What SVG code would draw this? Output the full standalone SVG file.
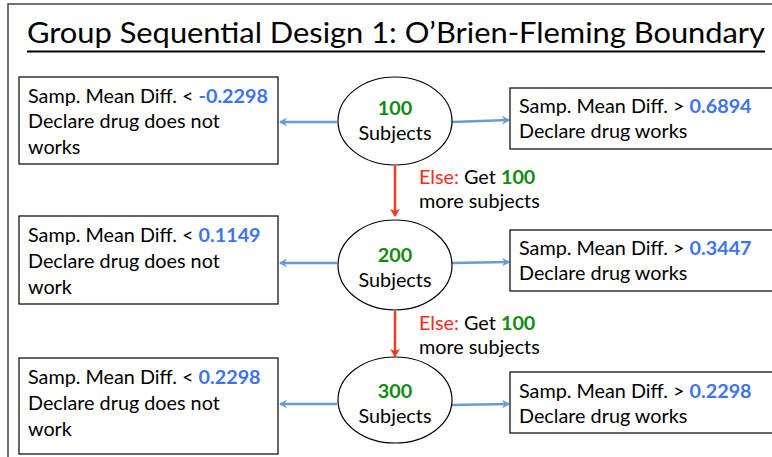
<svg xmlns="http://www.w3.org/2000/svg" width="772" height="457" viewBox="0 0 772 457">
<defs>
<marker id="blueHead" markerWidth="10" markerHeight="10" refX="7" refY="5" orient="auto" markerUnits="userSpaceOnUse" viewBox="0 0 10 10">
<path d="M0,0.5 L8,5 L0,9.5 L2.5,5 Z" fill="#6a9bd1"/>
</marker>
<marker id="redHead" markerWidth="10" markerHeight="10" refX="7" refY="5" orient="auto" markerUnits="userSpaceOnUse" viewBox="0 0 10 10">
<path d="M0,0 L8,5 L0,10 L2,5 Z" fill="#f03c1e"/>
</marker>
</defs>
<style>
text{font-family:Lato,"Liberation Sans",sans-serif;font-size:19.8px;fill:#000}
.b{font-weight:bold;fill:#3f73f0}
.g{font-weight:bold;fill:#128a12}
.r{fill:#ff2a1a}
.box{fill:#fff;stroke:#000;stroke-width:1.2}
.ell{fill:#fff;stroke:#000;stroke-width:1.2}
.blue{stroke:#6a9bd1;stroke-width:2.5;fill:none;marker-end:url(#blueHead)}
.red{stroke:#f03c1e;stroke-width:2.5;fill:none;marker-end:url(#redHead)}
</style>
<rect width="772" height="457" fill="#fff"/>
<path d="M8,457 L8,4 L772,4" fill="none" stroke="#444" stroke-width="1.5"/>
<g id="title">
<text x="27" y="43" style="font-size:28px" textLength="738" lengthAdjust="spacingAndGlyphs">Group Sequential Design 1: O’Brien-Fleming Boundary</text>
<line x1="27" y1="51.5" x2="765" y2="51.5" stroke="#000" stroke-width="2"/>
</g>
<g id="connectors">
<line class="blue" x1="337" y1="122" x2="280" y2="122"/>
<line class="blue" x1="452" y1="122" x2="509" y2="120"/>
<line class="blue" x1="337" y1="263" x2="280" y2="263"/>
<line class="blue" x1="452" y1="263" x2="509" y2="262"/>
<line class="blue" x1="337" y1="404" x2="280" y2="404"/>
<line class="blue" x1="452" y1="405" x2="509" y2="404"/>
<line class="red" x1="395" y1="166" x2="395" y2="216"/>
<line class="red" x1="395" y1="311" x2="395" y2="356"/>
</g>
<g id="else1">
<text x="419" y="184"><tspan class="r">Else:</tspan> Get <tspan class="g">100</tspan></text>
<text x="419" y="208">more subjects</text>
</g>
<g id="else2">
<text x="419" y="330"><tspan class="r">Else:</tspan> Get <tspan class="g">100</tspan></text>
<text x="419" y="354">more subjects</text>
</g>
<g id="n100">
<ellipse class="ell" cx="395" cy="121" rx="57" ry="44"/>
<text x="395" y="115" text-anchor="middle" class="g">100</text>
<text x="395" y="140" text-anchor="middle">Subjects</text>
</g>
<g id="n200">
<ellipse class="ell" cx="395" cy="265" rx="57" ry="45"/>
<text x="395" y="262" text-anchor="middle" class="g">200</text>
<text x="395" y="287" text-anchor="middle">Subjects</text>
</g>
<g id="n300">
<ellipse class="ell" cx="395" cy="400" rx="57" ry="43"/>
<text x="395" y="398" text-anchor="middle" class="g">300</text>
<text x="395" y="423" text-anchor="middle">Subjects</text>
</g>
<g id="left1">
<rect class="box" x="19" y="77" width="259" height="87"/>
<text x="28" y="103">Samp. Mean Diff. &lt; <tspan class="b">-0.2298</tspan></text>
<text x="28" y="128">Declare drug does not</text>
<text x="28" y="154">works</text>
</g>
<g id="left2">
<rect class="box" x="19" y="216" width="259" height="88"/>
<text x="28" y="242">Samp. Mean Diff. &lt; <tspan class="b">0.1149</tspan></text>
<text x="28" y="268">Declare drug does not</text>
<text x="28" y="294">work</text>
</g>
<g id="left3">
<rect class="box" x="19" y="358" width="259" height="96"/>
<text x="28" y="384">Samp. Mean Diff. &lt; <tspan class="b">0.2298</tspan></text>
<text x="28" y="410">Declare drug does not</text>
<text x="28" y="436">work</text>
</g>
<g id="right1">
<rect class="box" x="510" y="88" width="270" height="61"/>
<text x="519" y="113">Samp. Mean Diff. &gt; <tspan class="b">0.6894</tspan></text>
<text x="519" y="138">Declare drug works</text>
</g>
<g id="right2">
<rect class="box" x="510" y="230" width="270" height="61"/>
<text x="519" y="255">Samp. Mean Diff. &gt; <tspan class="b">0.3447</tspan></text>
<text x="519" y="280">Declare drug works</text>
</g>
<g id="right3">
<rect class="box" x="510" y="372" width="270" height="61"/>
<text x="519" y="398">Samp. Mean Diff. &gt; <tspan class="b">0.2298</tspan></text>
<text x="519" y="423">Declare drug works</text>
</g>
</svg>
